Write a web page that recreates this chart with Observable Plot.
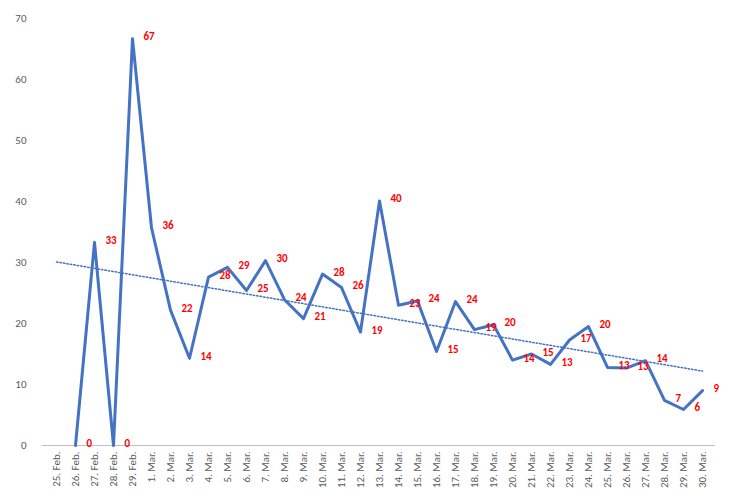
<!DOCTYPE html>
<html><head><meta charset="utf-8">
<script src="https://cdn.jsdelivr.net/npm/d3@7"></script>
<script src="https://cdn.jsdelivr.net/npm/@observablehq/plot@0.6"></script>
<style>body{margin:0;background:#fff;font-family:Calibri,"Liberation Sans",Arial,sans-serif}</style>
</head><body><div id="c"></div>
<script>
const categories = ["25. Feb.","26. Feb.","27. Feb.","28. Feb.","29. Feb."].concat(d3.range(1,31).map(d=>d+". Mar."));
const seriesDates = categories.slice(1);
const seriesValues = [0,33.3,0,66.7,35.7,22.2,14.3,27.6,29.2,25.4,30.3,23.9,20.8,28.1,25.9,18.6,40.1,23,23.7,15.4,23.6,19,19.8,14,15,13.3,17.3,19.5,12.8,12.7,13.9,7.4,5.9,9];
const pointLabels = [0,33,0,67,36,22,14,28,29,25,30,24,21,28,26,19,40,23,24,15,24,19,20,14,15,13,17,20,13,13,14,7,6,9];
const trendDates = ["25. Feb.","30. Mar."];
const trendValues = [30.1,12.2];
const yTicks = [0,10,20,30,40,50,60,70];

const data = seriesDates.map((d,i)=>({d,v:seriesValues[i],l:pointLabels[i]}));
const trend = trendDates.map((d,i)=>({d,v:trendValues[i]}));

const chart = Plot.plot({
  width:753,height:500,marginLeft:42,marginRight:38,marginTop:18,marginBottom:55,
  style:{fontFamily:"Calibri,'Liberation Sans',Arial,sans-serif",fontSize:"11px",color:"#595959"},
  x:{type:"point",domain:categories,range:[42,715],label:null,tickSize:0,tickRotate:-90,tickPadding:6},
  y:{domain:[0,70],ticks:yTicks,label:null,tickSize:0,tickPadding:16,grid:false},
  marks:[
    Plot.gridY(yTicks,{stroke:"#d9d9d9",strokeOpacity:1,x1:0,x2:753}),
    Plot.ruleY([0],{stroke:"#bfbfbf"}),
    Plot.line(trend,{x:"d",y:"v",stroke:"#4472c4",strokeWidth:1.5,strokeDasharray:"1.5,2"}),
    Plot.line(data,{x:"d",y:"v",stroke:"#4472c4",strokeWidth:3,strokeLinejoin:"round"}),
    Plot.text(data,{x:"d",y:"v",text:"l",dx:11,dy:-2,textAnchor:"start",fill:"#ff0000",fontWeight:"bold",fontSize:11})
  ]
});
document.getElementById("c").append(chart);
</script></body></html>
